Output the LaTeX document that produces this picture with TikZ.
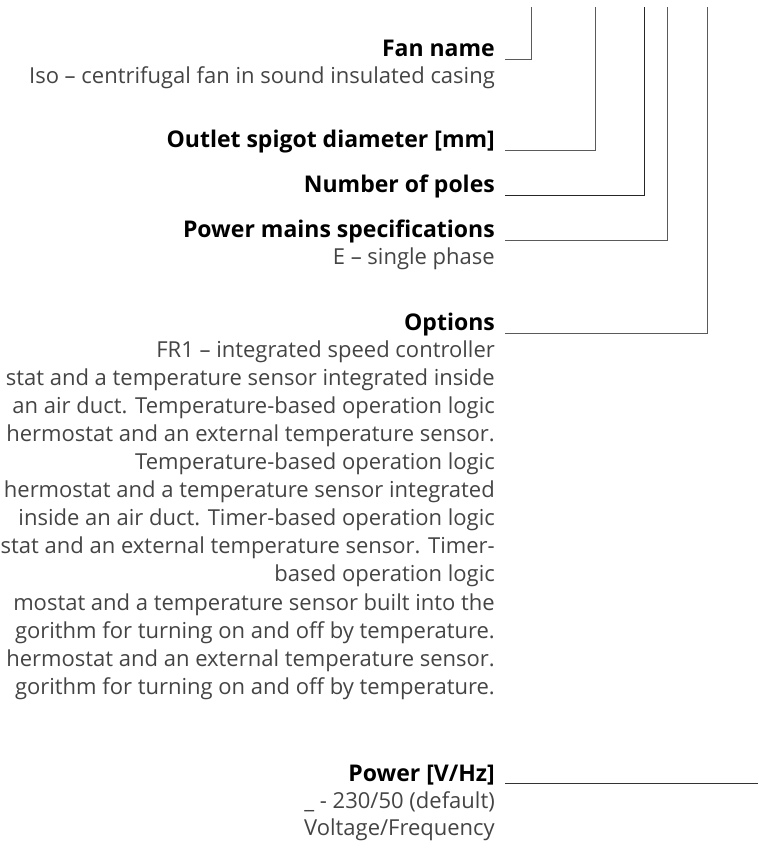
\documentclass[tikz,border=0pt]{standalone}
\usepackage{fontspec}
\setmainfont{Open Sans}
\definecolor{txtgray}{HTML}{444444}
\definecolor{linegray}{HTML}{5A5A5A}
\begin{document}
\begin{tikzpicture}[x=1pt,y=-1pt,
  lbl/.style={anchor=base east, inner sep=0pt, font=\bfseries\fontsize{23}{27}\selectfont, text=black},
  desc/.style={anchor=base east, inner sep=0pt, font=\fontsize{22}{27}\selectfont, text=txtgray},
  conn/.style={draw=linegray, line width=1pt}]
\useasboundingbox (0,0) rectangle (758,849);
\clip (0,0) rectangle (758,849);
% top ends of the code connectors
\coordinate (t1) at (531,7);
\coordinate (t2) at (595,7);
\coordinate (t3) at (644,7);
\coordinate (t4) at (667,7);
\coordinate (t5) at (707,7);
\coordinate (pend) at (758,783);
% labels
\node[lbl]  (fan)   at (495,56)  {Fan name};
\node[desc] (iso)   at (495,83)  {Iso – centrifugal fan in sound insulated casing};
\node[lbl]  (out)   at (495,147) {Outlet spigot diameter [mm]};
\node[lbl]  (poles) at (495,192) {Number of poles};
\node[lbl]  (mains) at (495,237) {Power mains specifications};
\node[desc] (ph)    at (495,264) {E – single phase};
\node[lbl]  (opt)   at (495,330) {Options};
\node[desc] (o1)  at (495,357) {FR1 – integrated speed controller};
\node[desc] (o2)  at (495,385) {stat and a temperature sensor integrated inside};
\node[desc] (o3)  at (495,413) {an air duct. Temperature-based operation logic};
\node[desc] (o4)  at (495,441) {hermostat and an external temperature sensor.};
\node[desc] (o5)  at (495,469) {Temperature-based operation logic};
\node[desc] (o6)  at (495,497) {hermostat and a temperature sensor integrated};
\node[desc] (o7)  at (495,525) {inside an air duct. Timer-based operation logic};
\node[desc] (o8)  at (495,553) {stat and an external temperature sensor. Timer-};
\node[desc] (o9)  at (495,581) {based operation logic};
\node[desc] (o10) at (495,610) {mostat and a temperature sensor built into the};
\node[desc] (o11) at (495,638) {gorithm for turning on and off by temperature.};
\node[desc] (o12) at (495,666) {hermostat and an external temperature sensor.};
\node[desc] (o13) at (495,694) {gorithm for turning on and off by temperature.};
\node[lbl]  (pw)  at (495,781) {Power [V/Hz]};
\node[desc] (pw1) at (495,808) {\_ - 230/50 (default)};
\node[desc] (pw2) at (495,835) {Voltage/Frequency};
% connectors
\draw[conn] ([shift={(10,3)}]fan.base east) -| (t1);
\draw[conn] ([shift={(10,3)}]out.base east) -| (t2);
\draw[conn,draw=black!85] ([shift={(10,3)}]poles.base east) -| (t3);
\draw[conn] ([shift={(10,3)}]mains.base east) -| (t4);
\draw[conn] ([shift={(10,3)}]opt.base east) -| (t5);
\draw[conn,draw=black!80] ([shift={(10,2)}]pw.base east) -- (pend);
\end{tikzpicture}
\end{document}
